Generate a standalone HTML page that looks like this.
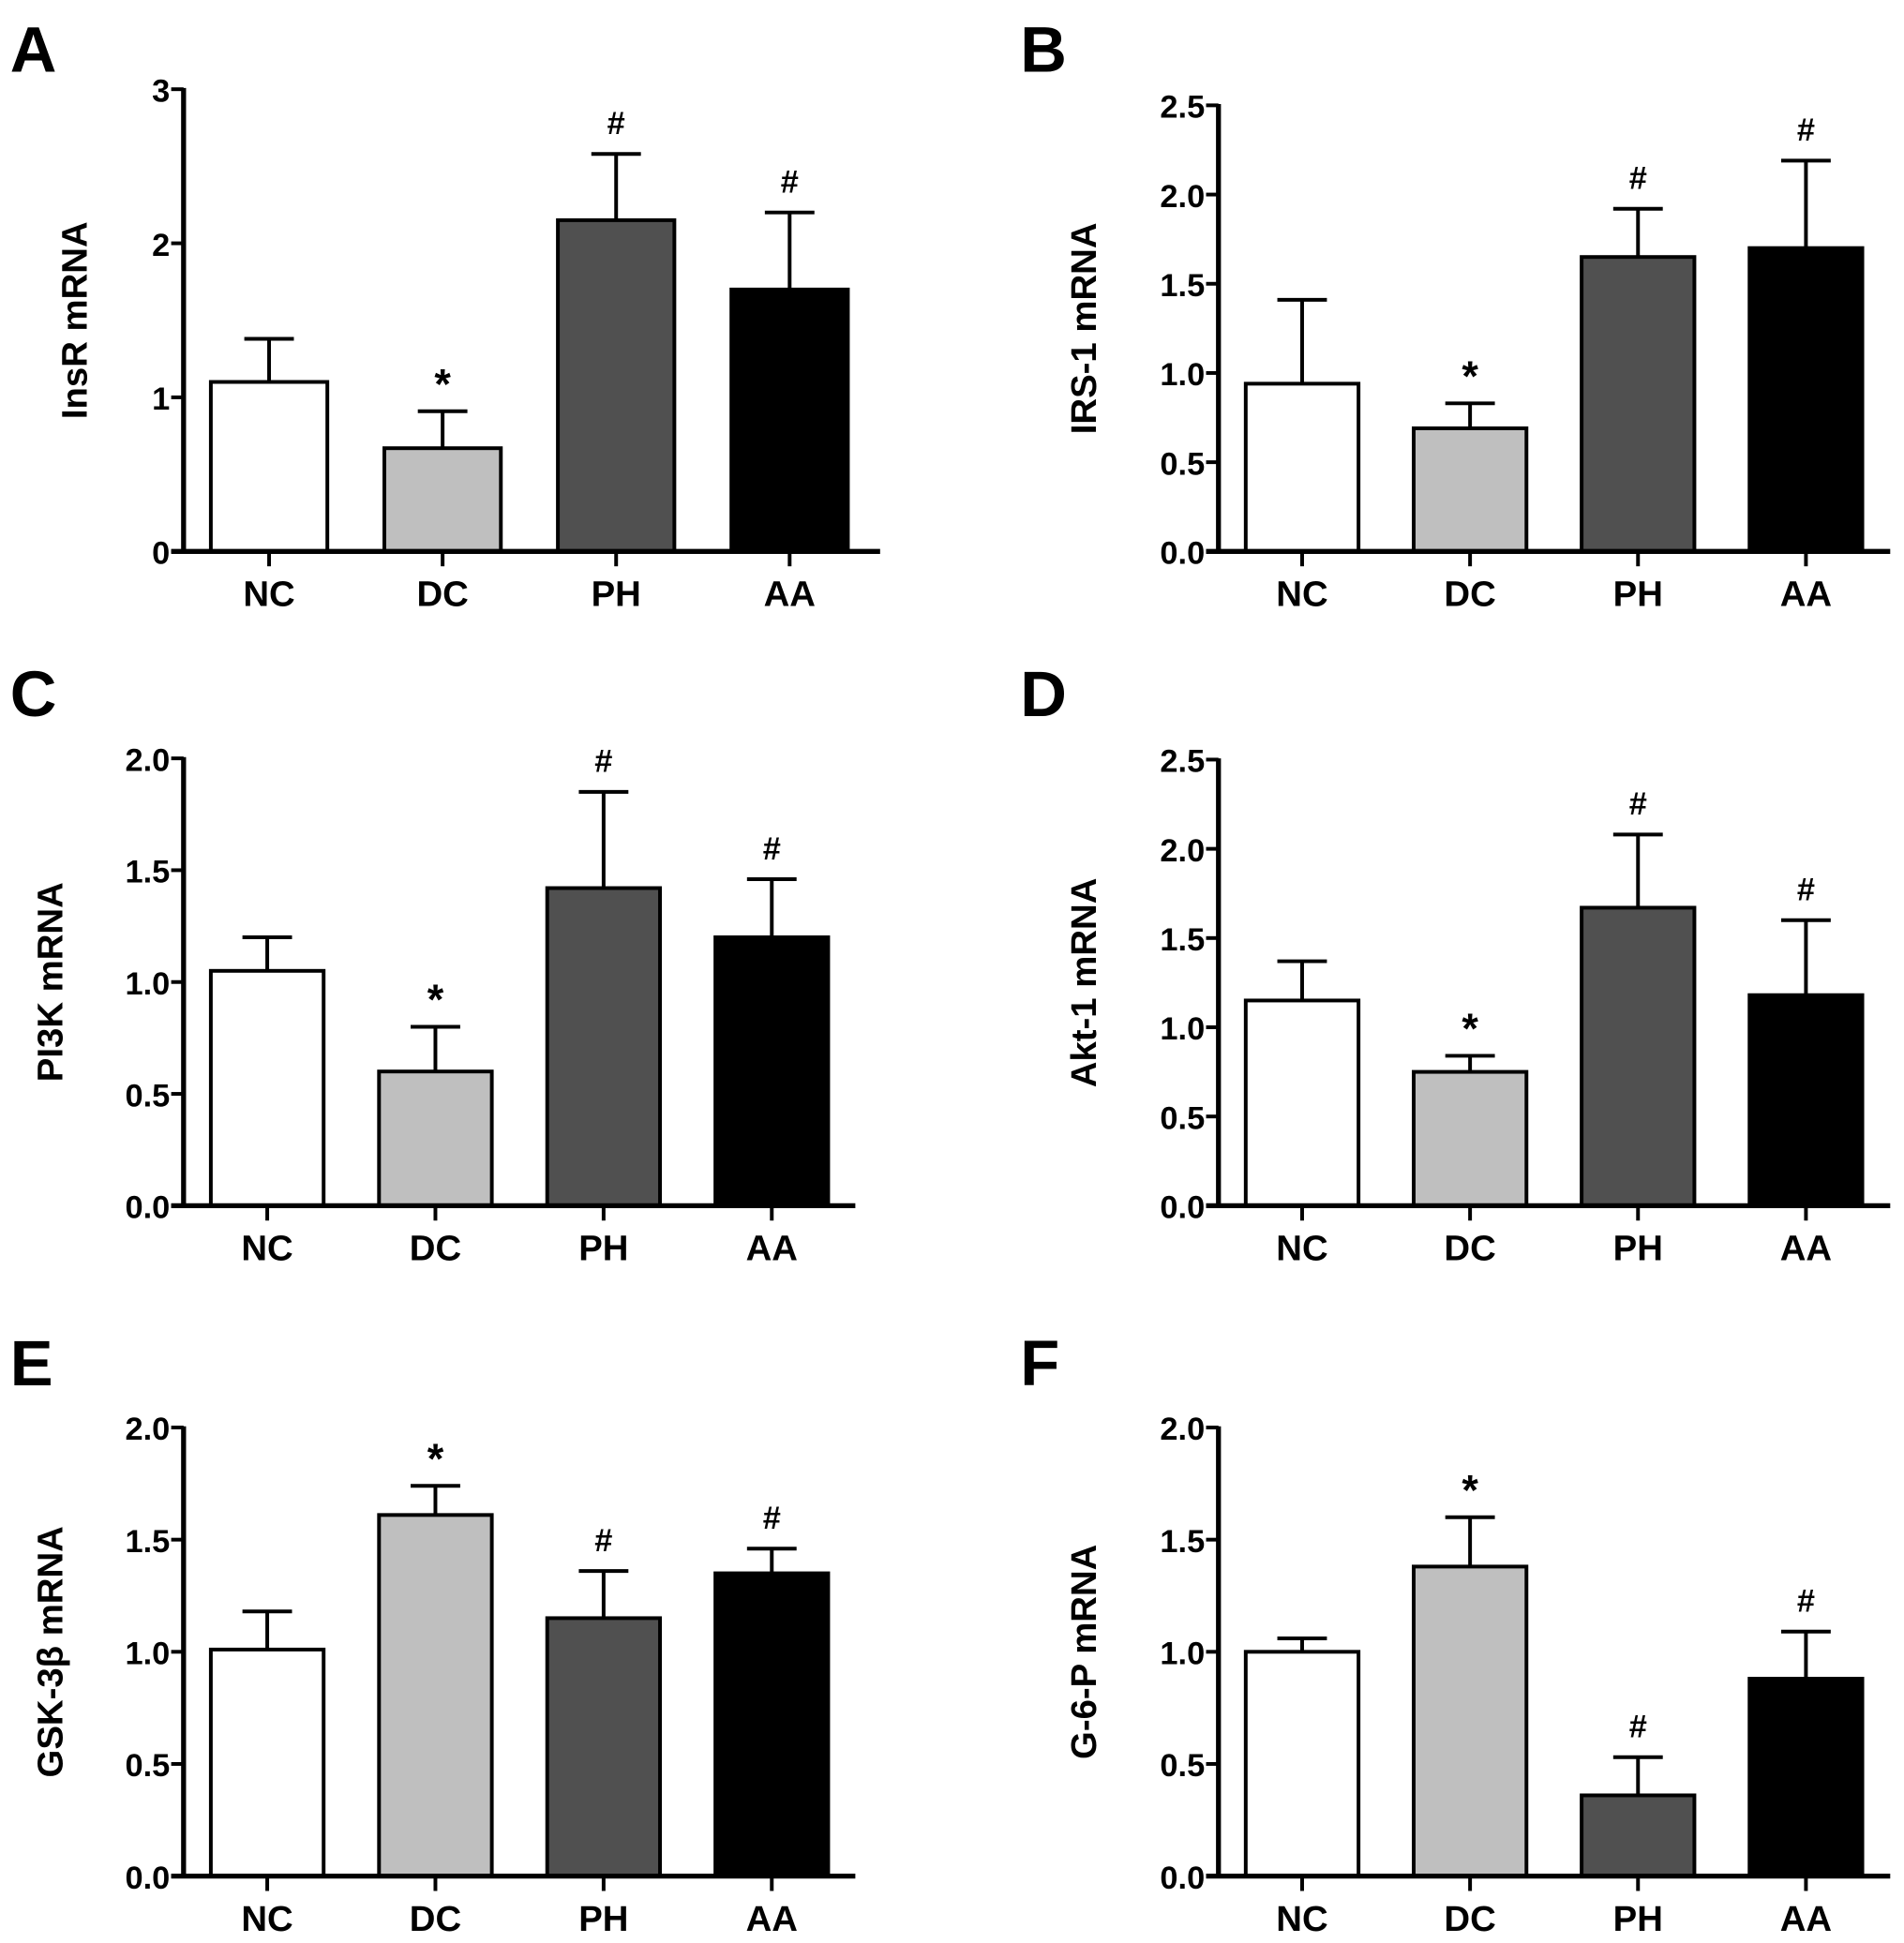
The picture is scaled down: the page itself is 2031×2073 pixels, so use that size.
<!DOCTYPE html>
<html><head><meta charset="utf-8"><style>html,body{margin:0;padding:0;background:#fff}svg{display:block}</style></head>
<body>
<svg id="fig" width="2031" height="2073" viewBox="0 0 1536 1568" xmlns="http://www.w3.org/2000/svg" font-family="Liberation Sans, Arial, sans-serif"></svg>
<script>
const categories = ["NC","DC","PH","AA"];
const fills = ["#ffffff","#bfbfbf","#505050","#000000"];
const panelLetters = ["A","B","C","D","E","F"];
const yTitles = ["InsR mRNA","IRS-1 mRNA","PI3K mRNA","Akt-1 mRNA","GSK-3\u03b2 mRNA","G-6-P mRNA"];
const yMaxes = [3,2.5,2,2.5,2,2];
const tickA = ["0","1","2","3"];
const tickB = ["0.0","0.5","1.0","1.5","2.0","2.5"];
const tickC = ["0.0","0.5","1.0","1.5","2.0"];
const means = [
  [1.10,0.67,2.15,1.70],
  [0.94,0.69,1.65,1.70],
  [1.05,0.60,1.42,1.20],
  [1.15,0.75,1.67,1.18],
  [1.01,1.61,1.15,1.35],
  [1.00,1.38,0.36,0.88]
];
const errTops = [
  [1.38,0.91,2.58,2.20],
  [1.41,0.83,1.92,2.19],
  [1.20,0.80,1.85,1.46],
  [1.37,0.84,2.08,1.60],
  [1.18,1.74,1.36,1.46],
  [1.06,1.60,0.53,1.09]
];
const marks = [
  ["","*","#","#"],["","*","#","#"],["","*","#","#"],
  ["","*","#","#"],["","*","#","#"],["","*","#","#"]
];
const ticksets = [tickA,tickB,tickC,tickB,tickC,tickC];

const NS="http://www.w3.org/2000/svg";
const svg=document.getElementById('fig');
function mk(tag,attrs,parent){const e=document.createElementNS(NS,tag);for(const k in attrs)e.setAttribute(k,attrs[k]);(parent||svg).appendChild(e);return e;}

const layouts=[
  {ax:148,y0:445,yt:72,b0:170,bw:94,sp:140,end:710,lx:8,ly:58,tx:70},
  {ax:983,y0:445,yt:85,b0:1005,bw:91,sp:135.5,end:1525,lx:823,ly:58,tx:884},
  {ax:148,y0:973,yt:612,b0:170,bw:91,sp:135.7,end:690,lx:8,ly:578,tx:50},
  {ax:983,y0:973,yt:613,b0:1005,bw:91,sp:135.5,end:1525,lx:823,ly:578,tx:884},
  {ax:148,y0:1514,yt:1152,b0:170,bw:91,sp:135.7,end:690,lx:8,ly:1118,tx:50},
  {ax:983,y0:1514,yt:1152,b0:1005,bw:91,sp:135.5,end:1525,lx:823,ly:1118,tx:884}
];

for(let p=0;p<6;p++){
  const L=layouts[p];
  const g=mk('g',{});
  
  
  const ys=v=>L.y0-(v/yMaxes[p])*(L.y0-L.yt);
  const lt=mk('text',{x:L.lx,y:L.ly,'font-size':52,'font-weight':'bold',fill:'#000'},g);
  lt.textContent=panelLetters[p];
  
  
  for(let i=0;i<4;i++){
    const x=L.b0+i*L.sp, cx=x+L.bw/2;
    const top=ys(means[p][i]), et=ys(errTops[p][i]);
    const eb=mk('line',{x1:cx,x2:cx,y1:top,y2:et,stroke:'#000','stroke-width':3},g);
    
    
    const cap=mk('line',{x1:cx-20,x2:cx+20,y1:et,y2:et,stroke:'#000','stroke-width':3},g);
    
    
    const r=mk('rect',{x:x,y:top,width:L.bw,height:L.y0-top,fill:fills[i],stroke:'#000','stroke-width':3},g);
    
    
    if(marks[p][i]){
      const m=mk('text',{x:cx,y:et-(marks[p][i]==='*'?10:16),'font-size':marks[p][i]==='*'?34:26,'font-weight':'bold','text-anchor':'middle'},g);
      m.textContent=marks[p][i];
      
      
    }
    const xt=mk('line',{x1:cx,x2:cx,y1:L.y0,y2:L.y0+12,stroke:'#000','stroke-width':3},g);
    
    
    const xl=mk('text',{x:cx,y:L.y0+44,'font-size':29,'font-weight':'bold','text-anchor':'middle'},g);
    xl.textContent=categories[i];
    
    
  }
  const ya=mk('line',{x1:L.ax,x2:L.ax,y1:L.yt-1,y2:L.y0+1.5,stroke:'#000','stroke-width':4},g);
  
  
  const xa=mk('line',{x1:L.ax-10,x2:L.end,y1:L.y0,y2:L.y0,stroke:'#000','stroke-width':4},g);
  
  
  const tk=ticksets[p];
  for(let t=0;t<tk.length;t++){
    const v=parseFloat(tk[t]), y=ys(v);
    const tl=mk('line',{x1:L.ax-10,x2:L.ax,y1:y,y2:y,stroke:'#000','stroke-width':3},g);
    
    
    const tt=mk('text',{x:L.ax-11,y:y+10,'font-size':26,'font-weight':'bold','text-anchor':'end'},g);
    tt.textContent=tk[t];
    
    
  }
  const cy=(L.y0+L.yt)/2;
  const ttl=mk('text',{x:L.tx,y:cy,'font-size':29,'font-weight':'bold','text-anchor':'middle',transform:`rotate(-90 ${L.tx} ${cy})`},g);
  ttl.textContent=yTitles[p];
  
  
}
</script>
</body></html>
